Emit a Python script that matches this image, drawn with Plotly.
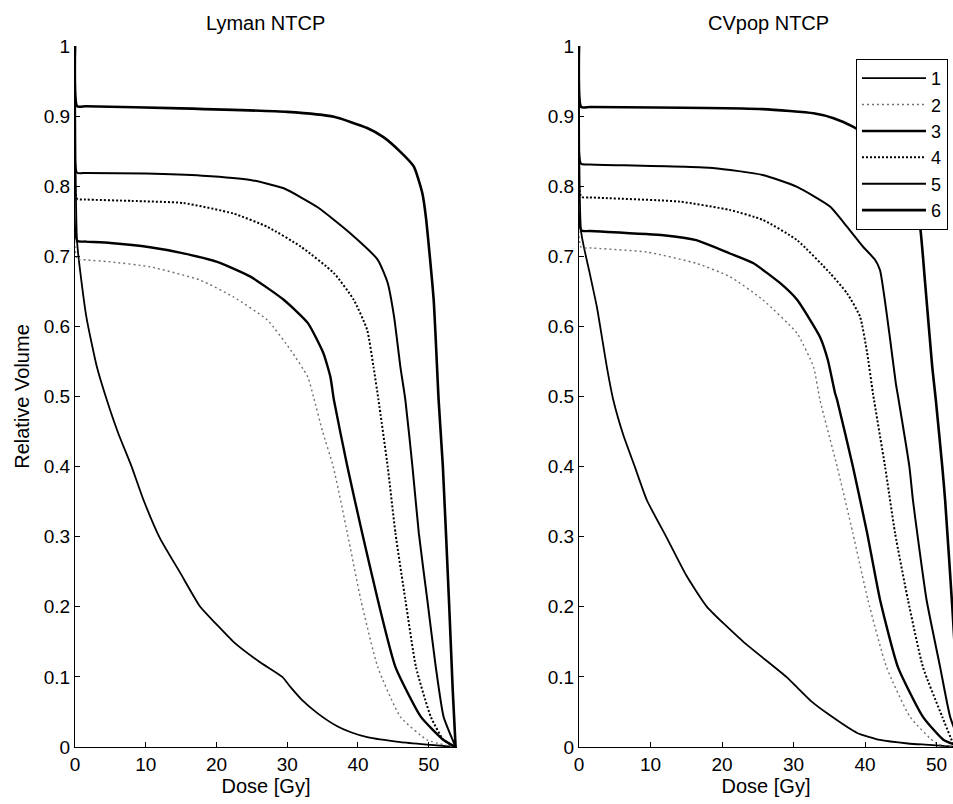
import plotly.graph_objects as go

# ---------------- data: Lyman NTCP panel ----------------
lyman_dose = {
    "1": [0, 0.3, 1.6, 3.1, 4.5, 6.1, 8, 9.7, 12, 14.9, 17.7, 20, 22.4, 26, 29.3, 30.5, 32, 34.3, 37, 39, 41.3, 46, 50.3, 53.8],
    "2": [0, 0.3, 1.5, 5, 10.6, 17.7, 22.4, 27.2, 30.5, 32.9, 33.7, 35, 36.5, 38.5, 40.4, 42.8, 46, 49.8, 53.5],
    "3": [0, 0.3, 1.5, 5, 10.6, 15, 20.1, 24.8, 29.5, 32.9, 35.1, 36.1, 36.6, 38.5, 40.6, 42.8, 45.3, 48.9, 52.1, 53.8],
    "4": [0, 0.3, 1.5, 8, 15.3, 22.4, 27.2, 31.9, 36.6, 39.4, 41.3, 42.2, 42.9, 44.2, 45.3, 46.7, 48.2, 50.3, 52.1, 53.8],
    "5": [0, 0.3, 1.5, 10, 18, 24.8, 29.5, 34.3, 38.9, 42.8, 44.2, 45.1, 46, 46.7, 47.7, 48.6, 49.8, 51, 52.1, 53.8],
    "6": [0, 0.3, 1.5, 15, 30, 36.6, 41.3, 43.6, 46, 47.9, 49.1, 49.6, 50.7, 51.4, 52, 52.9, 53.4, 53.8],
}
lyman_vol = {
    "1": [1, 0.72, 0.614, 0.542, 0.495, 0.448, 0.4, 0.352, 0.298, 0.248, 0.2, 0.175, 0.15, 0.122, 0.1, 0.085, 0.068, 0.048, 0.03, 0.021, 0.014, 0.007, 0.003, 0],
    "2": [1, 0.696, 0.695, 0.692, 0.685, 0.666, 0.642, 0.609, 0.566, 0.528, 0.5, 0.45, 0.4, 0.305, 0.21, 0.114, 0.043, 0.01, 0],
    "3": [1, 0.722, 0.721, 0.719, 0.713, 0.705, 0.692, 0.671, 0.638, 0.605, 0.562, 0.528, 0.495, 0.4, 0.305, 0.21, 0.114, 0.043, 0.01, 0],
    "4": [1, 0.782, 0.781, 0.779, 0.776, 0.761, 0.742, 0.714, 0.676, 0.638, 0.595, 0.542, 0.495, 0.4, 0.305, 0.21, 0.114, 0.043, 0.01, 0],
    "5": [1, 0.819, 0.819, 0.818, 0.815, 0.809, 0.797, 0.77, 0.733, 0.695, 0.662, 0.614, 0.542, 0.495, 0.4, 0.305, 0.21, 0.114, 0.043, 0],
    "6": [1, 0.914, 0.914, 0.911, 0.906, 0.899, 0.883, 0.87, 0.849, 0.828, 0.79, 0.756, 0.638, 0.495, 0.4, 0.2, 0.08, 0],
}

# ---------------- data: CVpop NTCP panel ----------------
cvpop_dose = {
    "1": [0, 0.3, 1.5, 2.5, 3.9, 4.8, 6.2, 7.8, 9.5, 12.3, 15, 17.9, 23, 29, 30.5, 32.5, 34.7, 38.9, 42.1, 46, 49, 53],
    "2": [0, 0.3, 1.5, 9.5, 16.4, 21.1, 25.7, 30.5, 32.8, 33.7, 36.1, 38.3, 40.4, 43, 46.3, 50, 53],
    "3": [0, 0.3, 1.5, 11.8, 16.4, 21.1, 24.4, 28.1, 30.5, 33.7, 34.8, 35.8, 36.1, 38.3, 40.3, 42.1, 44.6, 48.1, 51, 53.5],
    "4": [0, 0.3, 1.5, 14.1, 21.1, 25.7, 30.5, 35.1, 37.5, 39.3, 40.3, 41.1, 42.8, 44.2, 46, 48.1, 50.8, 52.5],
    "5": [0, 0.3, 1.5, 18.7, 25.7, 30.5, 35.1, 37.5, 39.7, 41.4, 42.1, 43.4, 44.3, 44.7, 46.2, 46.7, 47.3, 48.6, 50.5, 51.9, 53.5],
    "6": [0, 0.3, 1.5, 25.7, 32.8, 35.6, 38.3, 42, 45, 46.8, 47.7, 48.4, 49.4, 49.9, 50.8, 51.2, 52.2, 52.8, 53.3, 53.8],
}
cvpop_vol = {
    "1": [1, 0.735, 0.676, 0.628, 0.542, 0.495, 0.445, 0.4, 0.352, 0.298, 0.245, 0.2, 0.15, 0.1, 0.085, 0.065, 0.048, 0.02, 0.01, 0.005, 0.003, 0],
    "2": [1, 0.713, 0.712, 0.706, 0.69, 0.671, 0.638, 0.59, 0.542, 0.495, 0.4, 0.305, 0.21, 0.114, 0.043, 0.005, 0],
    "3": [1, 0.737, 0.736, 0.73, 0.723, 0.704, 0.69, 0.662, 0.638, 0.585, 0.552, 0.505, 0.495, 0.4, 0.305, 0.21, 0.114, 0.043, 0.01, 0],
    "4": [1, 0.785, 0.784, 0.778, 0.766, 0.752, 0.723, 0.676, 0.647, 0.614, 0.562, 0.505, 0.4, 0.305, 0.21, 0.114, 0.043, 0],
    "5": [1, 0.832, 0.831, 0.826, 0.816, 0.799, 0.771, 0.742, 0.714, 0.695, 0.68, 0.59, 0.519, 0.495, 0.4, 0.352, 0.305, 0.21, 0.114, 0.043, 0],
    "6": [1, 0.913, 0.913, 0.91, 0.904, 0.897, 0.885, 0.86, 0.82, 0.78, 0.742, 0.662, 0.542, 0.495, 0.4, 0.352, 0.2, 0.1, 0.03, 0],
}

series_names = ["1", "2", "3", "4", "5", "6"]
x_ticks = [0, 10, 20, 30, 40, 50]
y_ticks = [0, 0.1, 0.2, 0.3, 0.4, 0.5, 0.6, 0.7, 0.8, 0.9, 1]
y_tick_labels = ["0", "0.1", "0.2", "0.3", "0.4", "0.5", "0.6", "0.7", "0.8", "0.9", "1"]

styles = {
    "1": dict(color="black", width=1.8, dash="solid"),
    "2": dict(color="#707070", width=1.4, dash="2px,3px"),
    "3": dict(color="black", width=2.4, dash="solid"),
    "4": dict(color="black", width=2.0, dash="2px,2px"),
    "5": dict(color="black", width=2.0, dash="solid"),
    "6": dict(color="black", width=2.6, dash="solid"),
}

fig = go.Figure()
for s in series_names:
    fig.add_trace(go.Scatter(x=lyman_dose[s], y=lyman_vol[s], mode="lines", name=s,
                             line=dict(shape="spline", smoothing=0.5, **styles[s]),
                             showlegend=False, xaxis="x", yaxis="y"))
for s in series_names:
    fig.add_trace(go.Scatter(x=cvpop_dose[s], y=cvpop_vol[s], mode="lines", name=s,
                             line=dict(shape="spline", smoothing=0.5, **styles[s]),
                             showlegend=True, xaxis="x2", yaxis="y2"))

FONT = "Liberation Sans, Arial, sans-serif"
axis_common = dict(showline=True, linecolor="black", linewidth=1, ticks="inside",
                   ticklen=5, tickcolor="black", showgrid=False, zeroline=False,
                   tickfont=dict(family=FONT, size=19, color="black"), mirror=False)

fig.update_layout(
    width=953, height=804,
    margin=dict(l=75, r=0, t=46, b=57, autoexpand=False),
    paper_bgcolor="white", plot_bgcolor="white",
    font=dict(family=FONT, color="black"),
    xaxis=dict(domain=[0, 0.4351], range=[0, 54], tickvals=x_ticks, anchor="y",
               title=dict(text="Dose [Gy]", font=dict(size=20), standoff=2), **axis_common),
    yaxis=dict(domain=[0, 1], range=[0, 1], tickvals=y_ticks, ticktext=y_tick_labels, anchor="x",
               title=dict(text="Relative Volume", font=dict(size=20), standoff=8), **axis_common),
    xaxis2=dict(domain=[0.574, 1.0], range=[0, 52.3], tickvals=x_ticks, anchor="y2",
                title=dict(text="Dose [Gy]", font=dict(size=20), standoff=2), **axis_common),
    yaxis2=dict(domain=[0, 1], range=[0, 1], tickvals=y_ticks, ticktext=y_tick_labels, anchor="x2",
                **axis_common),
    legend=dict(x=0.8895, y=0.9815, xanchor="left", yanchor="top",
                bgcolor="white", bordercolor="black", borderwidth=1,
                font=dict(family=FONT, size=18, color="black"),
                tracegroupgap=0, itemwidth=64),
    annotations=[
        dict(text="Lyman NTCP", x=0.2175, y=1, xref="paper", yref="paper",
             xanchor="center", yanchor="bottom", yshift=10, showarrow=False,
             font=dict(family=FONT, size=20, color="black")),
        dict(text="CVpop NTCP", x=0.7898, y=1, xref="paper", yref="paper",
             xanchor="center", yanchor="bottom", yshift=10, showarrow=False,
             font=dict(family=FONT, size=20, color="black")),
    ],
)

fig.write_html("out.html")
